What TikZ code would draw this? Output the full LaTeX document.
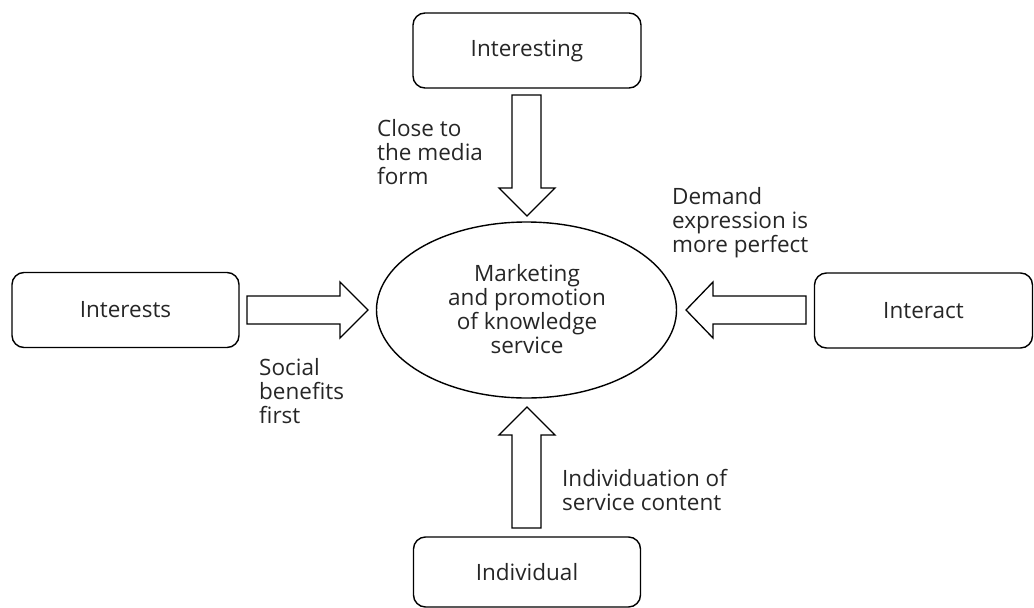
\documentclass[tikz,border=0pt]{standalone}
\usepackage{fontspec}
\setmainfont{Open Sans}
\begin{document}
\begin{tikzpicture}[x=1pt,y=-1pt,
  txt/.style={font=\fontsize{22.5}{24}\selectfont, inner sep=0pt, text=black!85},
  box/.style={txt, draw=black, line width=1.4pt, rounded corners=12pt, minimum height=75pt},
  lbl/.style={txt, align=left, anchor=west},
  blockarrow/.style={draw=black, line width=1.3pt, fill=white, line join=miter}
]
\useasboundingbox (0,0) rectangle (1034,608);
\clip (0,0) rectangle (1034,608);
% boxes
\node[box, minimum width=228pt] (top) at (527,50.5) {Interesting};
\node[box, minimum width=227pt] (left) at (125.5,310) {Interests};
\node[box, minimum width=218pt] (right) at (923.5,310.5) {Interact};
\node[box, minimum width=227pt, minimum height=70pt] (bottom) at (527,572) {Individual};
% center ellipse
\draw[line width=1.4pt] (526.5,310) ellipse [x radius=150, y radius=88];
\node[txt, align=center] (center) at (527,309.5) {Marketing\\and promotion\\of knowledge\\service};
% block arrows
\draw[blockarrow] (512,95) -- (541,95) -- (541,188) -- (555,188) -- (527,216) -- (499,188) -- (512,188) -- cycle;
\draw[blockarrow] (512,528) -- (541,528) -- (541,435) -- (555,435) -- (527,407) -- (499,435) -- (512,435) -- cycle;
\draw[blockarrow] (247,296) -- (340,296) -- (340,282) -- (368,310) -- (340,338) -- (340,324) -- (247,324) -- cycle;
\draw[blockarrow] (806,296) -- (713,296) -- (713,282) -- (686,310) -- (713,338) -- (713,324) -- (806,324) -- cycle;
% labels
\node[lbl] (l1) at (377,152) {Close to\\the media\\form};
\node[lbl] (l2) at (672,223) {Demand\\expression is\\more perfect};
\node[lbl] (l3) at (259,391) {Social\\benefits\\first};
\node[lbl] (l4) at (562,490) {Individuation of\\service content};
\end{tikzpicture}
\end{document}
